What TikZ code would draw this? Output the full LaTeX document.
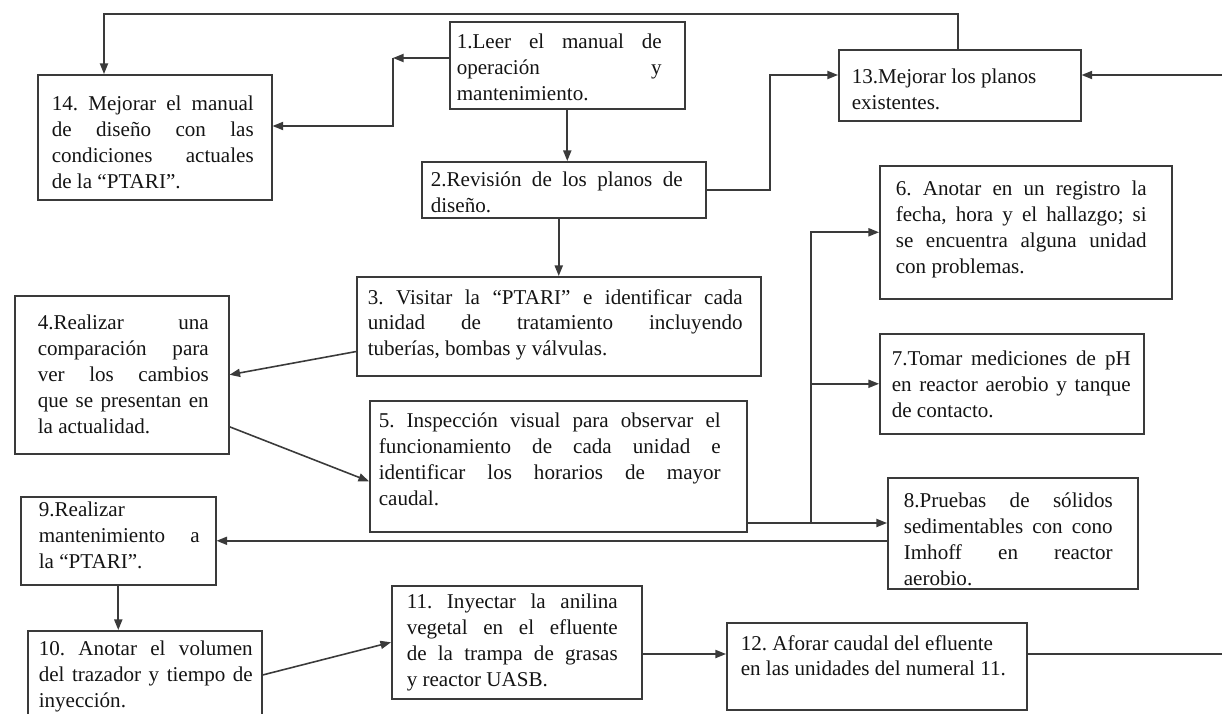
\documentclass[tikz,border=0pt]{standalone}
\usepackage{fontspec}
\setmainfont{Liberation Serif}
\usetikzlibrary{arrows.meta,calc}
\definecolor{Tinta}{HTML}{141414}
\definecolor{Borde}{HTML}{3A3A3A}
\tikzset{
  paso/.style={
    draw=Borde, line width=0.9pt, anchor=north west, inner sep=0pt,
    font=\fontsize{12}{14.7}\selectfont, text=Tinta
  },
  % ancho, alto, margen arriba, margen izquierdo, margen derecho
  caja/.style n args={5}{
    execute at begin node={\begin{minipage}[c][#2][t]{#1}%
      \frenchspacing\tolerance=10000\hyphenpenalty=10000\vspace*{#3}%
      \leftskip=#4\rightskip=#5\relax},
    execute at end node={\end{minipage}}
  },
  flujo/.style={-{Triangle[length=6pt,width=4.6pt]}, line width=0.9pt, draw=Borde},
  tramo/.style={line width=0.9pt, draw=Borde}
}
\begin{document}
\begin{tikzpicture}[x=0.02cm,y=-0.02cm]
\useasboundingbox (0,0) rectangle (1222,713);
\clip (0,0) rectangle (1222,713);

% pasos
\node[paso,caja={4.70cm}{1.74cm}{0.25cm}{0.14cm}{0.46cm}] (p1) at (449,21)
  {1.Leer el manual de\linebreak operación y\linebreak mantenimiento.};
\node[paso,caja={4.68cm}{2.50cm}{0.43cm}{0.28cm}{0.36cm}] (p14) at (37,74)
  {14. Mejorar el manual\linebreak de diseño con las\linebreak condiciones actuales\linebreak de la “PTARI”.};
\node[paso,caja={4.84cm}{1.42cm}{0.39cm}{0.26cm}{0.3cm plus 1fil}] (p13) at (838,49)
  {13.Mejorar los planos\\ existentes.};
\node[paso,caja={5.68cm}{1.12cm}{0.21cm}{0.18cm}{0.46cm}] (p2) at (421,161)
  {2.Revisión de los planos de\linebreak diseño.};
\node[paso,caja={5.84cm}{2.66cm}{0.31cm}{0.32cm}{0.50cm}] (p6) at (879,165)
  {6. Anotar en un registro la\linebreak fecha, hora y el hallazgo; si\linebreak se encuentra alguna unidad\linebreak con problemas.};
\node[paso,caja={8.08cm}{1.98cm}{0.25cm}{0.22cm}{0.36cm}] (p3) at (356,276)
  {3. Visitar la “PTARI” e identificar cada\linebreak unidad de tratamiento incluyendo\linebreak tuberías, bombas y válvulas.};
\node[paso,caja={4.28cm}{3.16cm}{0.39cm}{0.46cm}{0.40cm}] (p4) at (14,295)
  {4.Realizar una\linebreak comparación para\linebreak ver los cambios\linebreak que se presentan en\linebreak la actualidad.};
\node[paso,caja={5.28cm}{2.00cm}{0.35cm}{0.24cm}{0.26cm}] (p7) at (879,333)
  {7.Tomar mediciones de pH\linebreak en reactor aerobio y tanque\linebreak de contacto.};
\node[paso,caja={7.54cm}{2.62cm}{0.25cm}{0.18cm}{0.52cm}] (p5) at (369,400)
  {5. Inspección visual para observar el\linebreak funcionamiento de cada unidad e\linebreak identificar los horarios de mayor\linebreak caudal.};
\node[paso,caja={5.00cm}{2.22cm}{0.31cm}{0.32cm}{0.50cm}] (p8) at (887,477)
  {8.Pruebas de sólidos\linebreak sedimentables con cono\linebreak Imhoff en reactor\linebreak aerobio.};
\node[paso,caja={3.90cm}{1.76cm}{0.11cm}{0.36cm}{0.32cm}] (p9) at (20,496)
  {9.Realizar\linebreak mantenimiento a\linebreak la “PTARI”.};
\node[paso,caja={4.68cm}{2.00cm}{0.21cm}{0.22cm}{0.18cm}] (p10) at (27,630)
  {10. Anotar el volumen\linebreak del trazador y tiempo de\linebreak inyección.};
\node[paso,caja={5.00cm}{2.26cm}{0.17cm}{0.30cm}{0.48cm}] (p11) at (391,585)
  {11. Inyectar la anilina\linebreak vegetal en el efluente\linebreak de la trampa de grasas\linebreak y reactor UASB.};
\node[paso,caja={6.00cm}{1.74cm}{0.25cm}{0.28cm}{0.3cm plus 1fil}] (p12) at (726,622)
  {12. Aforar caudal del efluente\\ en las unidades del numeral 11.};

% puntos de quiebre
\coordinate (t1) at (958,14);
\coordinate (t2) at (104,14);
\coordinate (q1) at (393,58);
\coordinate (q2) at (393,126);
\coordinate (q3) at (770,75);
\coordinate (q4) at (1222,75);
\coordinate (q5) at (1222,654);
\coordinate (q7) at (811,523);

% conexiones
\draw[flujo] (p13.north -| t1) -- (t1) -- (t2) -- (t2 |- p14.north);
\draw[flujo] (q1 -| p1.west) -- (q1);
\draw[flujo] (q1) -- (q2) -- (q2 -| p14.east);
\draw[flujo] (p1.south) -- (p1.south |- p2.north);
\draw[flujo] (p3.north |- p2.south) -- (p3.north);
\draw[flujo] (p2.east) -| (q3) -- (q3 -| p13.west);
\draw[flujo] (q4) -- (q4 -| p13.east);
\draw[tramo] (q5 -| p12.east) -- (q5);
\draw[flujo] (q5 -| p11.east) -- (q5 -| p12.west);
\draw[flujo] ($(p3.south west)+(0,-25)$) -- (p4.east);
\draw[flujo] ($(p4.east)+(0,52)$) -- ($(p5.west)+(0,15)$);
\draw[flujo] (q7 -| p5.east) -- (q7 -| p8.west);
\draw[flujo] (q7) |- (p6.west);
\draw[flujo] (q7 |- p7.west) -- (p7.west);
\draw[flujo] (p8.west |- p9.east) -- (p9.east);
\draw[flujo] (p9.south) -- (p9.south |- p10.north);
\draw[flujo] ($(p10.north east)+(0,45)$) -- (p11.west);
\end{tikzpicture}
\end{document}
